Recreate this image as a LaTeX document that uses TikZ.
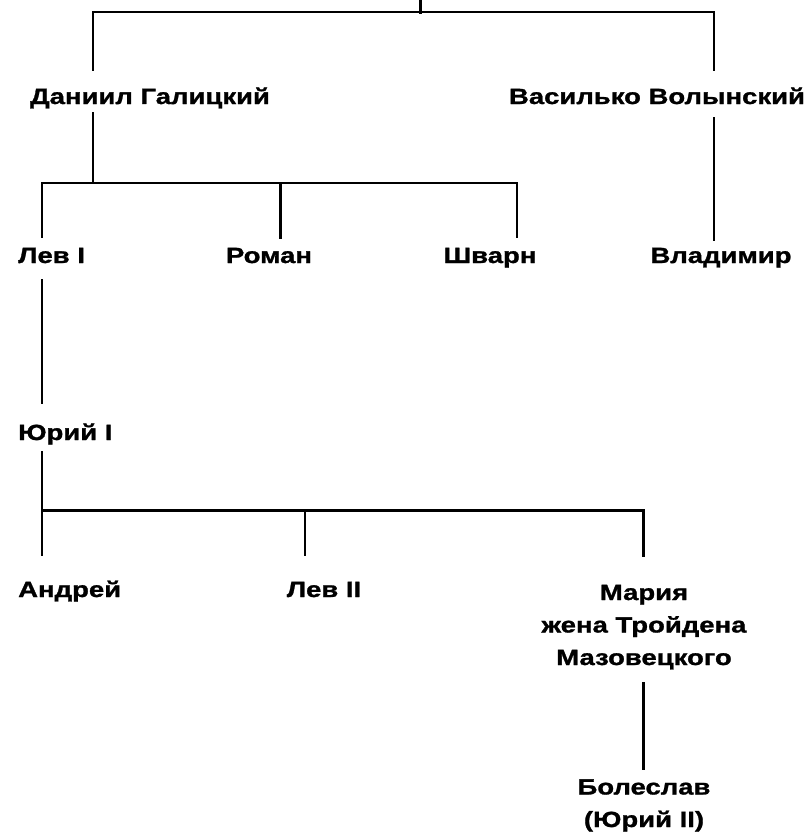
\documentclass[tikz,border=0pt]{standalone}
\usepackage{fontspec}
\setmainfont[FakeStretch=1.25,BoldFeatures={FakeBold=1.2}]{Liberation Sans}
\begin{document}
\begin{tikzpicture}[x=1pt,y=-1pt,
  person/.style={font=\fontsize{22}{32.5}\selectfont\bfseries, inner sep=0pt, anchor=base, align=center},
  lnk/.style={line width=2pt, line cap=rect},
  lnkb/.style={line width=3pt, line cap=rect}]
\useasboundingbox (0,0) rectangle (809,835);
% names
\node[person] (dan) at (150,104) {Даниил Галицкий};
\node[person] (vas) at (657,104) {Василько Волынский};
\node[person, anchor=base west] (lev1) at (18,263) {Лев I};
\node[person] (rom) at (269,263) {Роман};
\node[person] (shv) at (490,263) {Шварн};
\node[person] (vla) at (721,263) {Владимир};
\node[person, anchor=base west] (yur) at (18,440) {Юрий I};
\node[person, anchor=base west] (and) at (18,597) {Андрей};
\node[person] (lev2) at (324,597) {Лев II};
\node[person] (mar) at (644,665) {Мария\\жена Тройдена\\Мазовецкого};
\node[person] (bol) at (644,827) {Болеслав\\(Юрий II)};
% junction coordinates
\coordinate (top) at (420,0);
\coordinate (jt) at (420,12);
\coordinate (jtl) at (93,12);
\coordinate (jtr) at (714,12);
\coordinate (dant) at (93,70);
\coordinate (vast) at (714,70);
\coordinate (danb) at (93,113);
\coordinate (jd) at (93,183);
\coordinate (jdl) at (42,183);
\coordinate (jdm) at (280,183);
\coordinate (jdr) at (517,183);
\coordinate (lev1t) at (42,237);
\coordinate (romt) at (280,237);
\coordinate (shvt) at (517,237);
\coordinate (vasb) at (714,118);
\coordinate (vlat) at (714,240);
\coordinate (lev1b) at (42,280);
\coordinate (yurt) at (42,403);
\coordinate (yurb) at (42,452);
\coordinate (jy) at (42,510);
\coordinate (jym) at (305,510);
\coordinate (jyr) at (643,510);
\coordinate (andt) at (42,555);
\coordinate (lev2t) at (305,555);
\coordinate (mart) at (643,555);
\coordinate (marb) at (643,683);
\coordinate (bolt) at (643,768);
% connectors
\draw[lnkb] (top) -- (jt);
\draw[lnk] (jtl) -- (jtr);
\draw[lnk] (jtl) -- (dant);
\draw[lnk] (jtr) -- (vast);
\draw[lnk] (danb) -- (jd);
\draw[lnk] (jdl) -- (jdr);
\draw[lnk] (jdl) -- (lev1t);
\draw[lnkb] (jdm) -- (romt);
\draw[lnk] (jdr) -- (shvt);
\draw[lnk] (vasb) -- (vlat);
\draw[lnk] (lev1b) -- (yurt);
\draw[lnk] (yurb) -- (jy);
\draw[lnkb] (jy) -- (jyr);
\draw[lnk] (jy) -- (andt);
\draw[lnk] (jym) -- (lev2t);
\draw[lnkb] (jyr) -- (mart);
\draw[lnkb] (marb) -- (bolt);
\end{tikzpicture}
\end{document}
